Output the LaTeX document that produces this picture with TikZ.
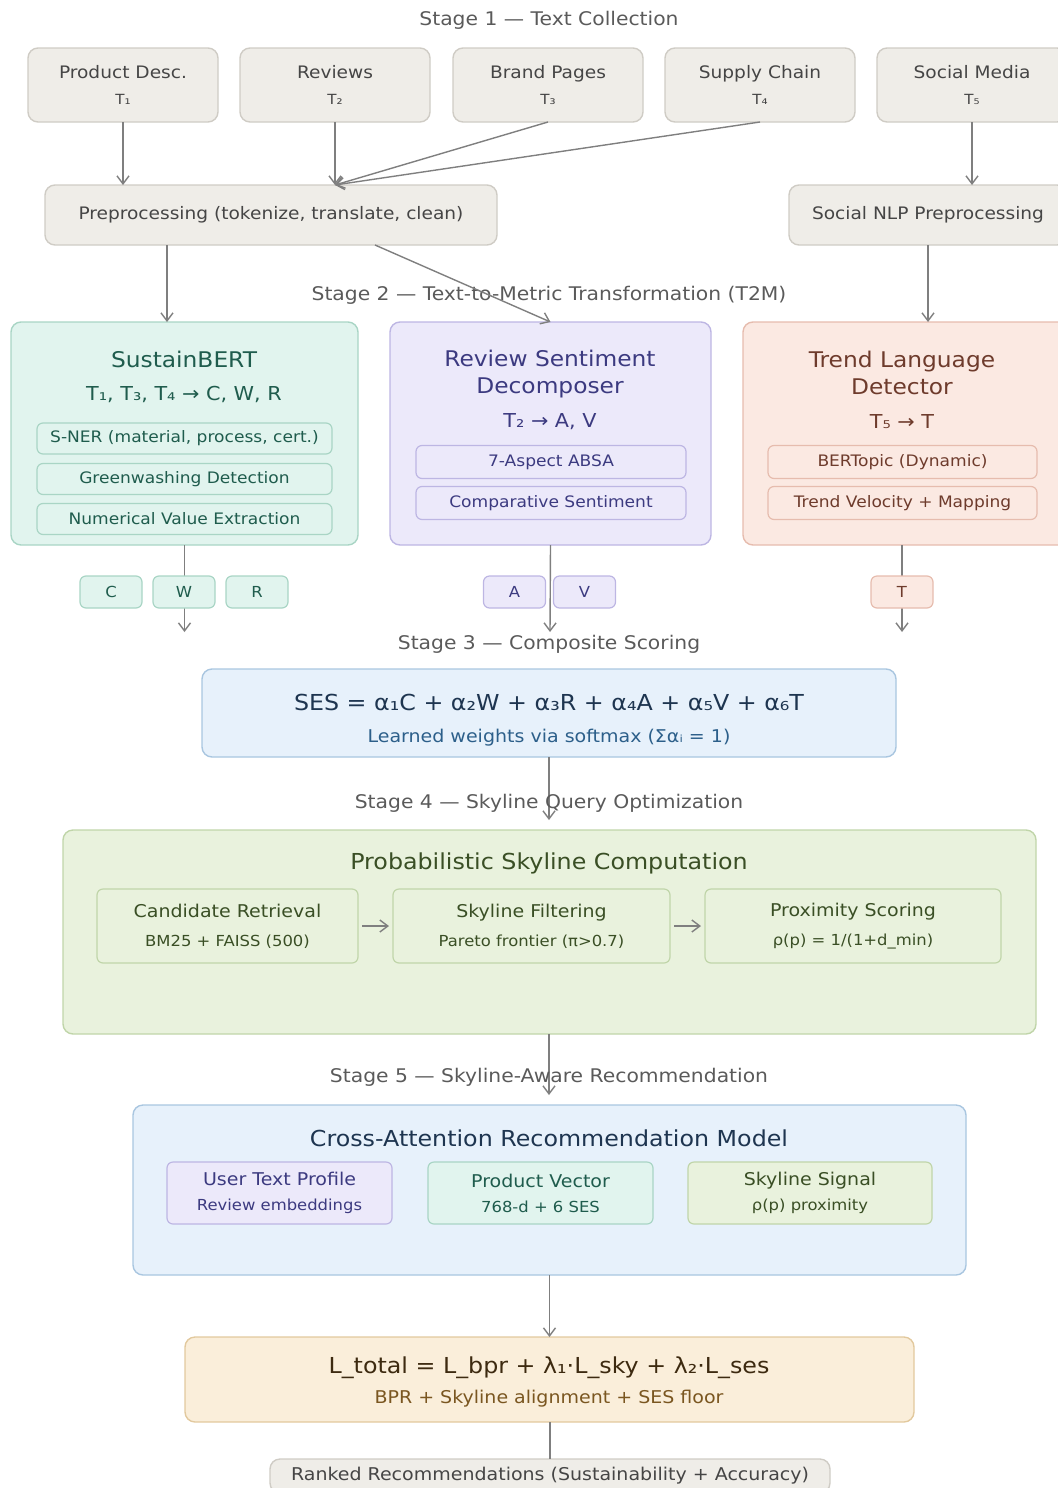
\documentclass[tikz,border=0pt]{standalone}
\usepackage{fontspec}
\setmainfont[FakeStretch=1.08]{DejaVu Sans}
\usetikzlibrary{arrows.meta}

\definecolor{greyfill}{HTML}{EFEDE8}
\definecolor{greyedge}{HTML}{CFCCC5}
\definecolor{greytext}{HTML}{454545}
\definecolor{stagetext}{HTML}{5A5A5A}
\definecolor{greenfill}{HTML}{E1F4EE}
\definecolor{greenedge}{HTML}{A9D5C5}
\definecolor{greentext}{HTML}{1F5C4D}
\definecolor{lavfill}{HTML}{ECE9FA}
\definecolor{lavedge}{HTML}{BDB6E3}
\definecolor{lavtext}{HTML}{3C3A80}
\definecolor{peachfill}{HTML}{FBE9E2}
\definecolor{peachedge}{HTML}{E6BCAE}
\definecolor{peachtext}{HTML}{6E3B2C}
\definecolor{bluefill}{HTML}{E7F1FB}
\definecolor{blueedge}{HTML}{A9C6E0}
\definecolor{bluetext}{HTML}{1E3550}
\definecolor{bluesub}{HTML}{2C5F8A}
\definecolor{olivefill}{HTML}{E9F2DD}
\definecolor{oliveedge}{HTML}{C0D5A9}
\definecolor{olivetext}{HTML}{3A4F25}
\definecolor{sandfill}{HTML}{FAEEDA}
\definecolor{sandedge}{HTML}{E2C99E}
\definecolor{sandtext}{HTML}{3D2A10}
\definecolor{sandsub}{HTML}{7A5620}
\definecolor{arrowgrey}{HTML}{7F7F7F}

\newcommand{\StageFont}{\fontsize{9.4}{11}\selectfont}
\newcommand{\SrcFont}{\fontsize{8.6}{10.5}\selectfont}
\newcommand{\TinyFont}{\fontsize{7}{8.5}\selectfont}
\newcommand{\HeadFont}{\fontsize{10.8}{13.5}\selectfont}
\newcommand{\FormFont}{\fontsize{9.6}{11.5}\selectfont}
\newcommand{\ItemFont}{\fontsize{7.9}{9.5}\selectfont}
\newcommand{\LabFont}{\fontsize{8.8}{10.5}\selectfont}
\newcommand{\NoteFont}{\fontsize{7.6}{9}\selectfont}
\newcommand{\BigFont}{\fontsize{11}{13}\selectfont}

\begin{document}
\begin{tikzpicture}[x=0.5pt,y=-0.5pt]
  \tikzset{BoxStyle/.style = {
    shape           = rectangle,
    rounded corners = 5pt,
    line width      = 0.7pt,
    inner sep       = 0pt,
    outer sep       = 0pt,
    align           = center
    }
  }
  \tikzset{SrcStyle/.style = {BoxStyle,
    draw = greyedge, fill = greyfill, text = greytext,
    minimum width = 95pt, minimum height = 37pt}
  }
  \tikzset{PreStyle/.style = {BoxStyle,
    draw = greyedge, fill = greyfill, text = greytext,
    minimum height = 30pt, font = \SrcFont}
  }
  \tikzset{ItemStyle/.style = {BoxStyle,
    rounded corners = 3pt, line width = 0.6pt,
    font = \ItemFont}
  }
  \tikzset{TokenStyle/.style = {BoxStyle,
    rounded corners = 3pt, line width = 0.6pt,
    minimum width = 31pt, minimum height = 16pt, font = \NoteFont}
  }
  \tikzset{StageStyle/.style = {text = stagetext, font = \StageFont, inner sep = 0pt}}
  \tikzset{ArrowStyle/.style = {
    draw       = arrowgrey,
    line width = 0.7pt,
    -{Straight Barb[length=4pt,width=6pt]}
    }
  }
  \tikzset{LineStyle/.style = {draw = arrowgrey, line width = 0.7pt}}

  \useasboundingbox (0,0) rectangle (1057,1488);

  % stage 1
  \node[StageStyle](St1) at (549,20) {Stage 1 — Text Collection};
  \node[SrcStyle](Src1) at (123,85) {{\SrcFont Product Desc.}\\[1pt]{\TinyFont T₁}};
  \node[SrcStyle](Src2) at (335,85) {{\SrcFont Reviews}\\[1pt]{\TinyFont T₂}};
  \node[SrcStyle](Src3) at (548,85) {{\SrcFont Brand Pages}\\[1pt]{\TinyFont T₃}};
  \node[SrcStyle](Src4) at (760,85) {{\SrcFont Supply Chain}\\[1pt]{\TinyFont T₄}};
  \node[SrcStyle](Src5) at (972,85) {{\SrcFont Social Media}\\[1pt]{\TinyFont T₅}};
  \node[PreStyle, minimum width=226pt](Pre1) at (271,215) {Preprocessing (tokenize, translate, clean)};
  \node[PreStyle, minimum width=139pt](Pre2) at (928,215) {Social NLP Preprocessing};
  \coordinate (PreIn) at (335,185);
  \draw[ArrowStyle](Src1.south) to (Src1.south |- Pre1.north);
  \draw[ArrowStyle](Src2.south) to (PreIn);
  \draw[ArrowStyle](Src3.south) to (PreIn);
  \draw[ArrowStyle](Src4.south) to (PreIn);
  \draw[ArrowStyle](Src5.south) to (Src5.south |- Pre2.north);

  % stage 2
  \node[StageStyle](St2) at (549,295) {Stage 2 — Text-to-Metric Transformation (T2M)};
  \node[BoxStyle, draw=greenedge, fill=greenfill, minimum width=173.5pt, minimum height=111.5pt](Mod1) at (184.5,433.5) {};
  \node[BoxStyle, draw=lavedge, fill=lavfill, minimum width=160.5pt, minimum height=111.5pt](Mod2) at (550.5,433.5) {};
  \node[BoxStyle, draw=peachedge, fill=peachfill, minimum width=163.5pt, minimum height=111.5pt](Mod3) at (906.5,433.5) {};
  \coordinate (PreOutA) at (167,245);
  \coordinate (PreOutB) at (375,245);
  \draw[ArrowStyle](PreOutA) to (PreOutA |- Mod1.north);
  \draw[ArrowStyle](PreOutB) to (Mod2.north);
  \draw[ArrowStyle](Pre2.south) to (Pre2.south |- Mod3.north);

  \node[text=greentext, font=\HeadFont](Mod1t) at (184,359) {SustainBERT};
  \node[text=greentext, font=\FormFont](Mod1f) at (184,394) {T₁, T₃, T₄ → C, W, R};
  \node[ItemStyle, draw=greenedge, fill=greenfill, text=greentext, minimum width=147.5pt, minimum height=15.5pt](Mod1a) at (184.5,438.5) {S-NER (material, process, cert.)};
  \node[ItemStyle, draw=greenedge, fill=greenfill, text=greentext, minimum width=147.5pt, minimum height=15.5pt](Mod1b) at (184.5,479) {Greenwashing Detection};
  \node[ItemStyle, draw=greenedge, fill=greenfill, text=greentext, minimum width=147.5pt, minimum height=15.5pt](Mod1c) at (184.5,519) {Numerical Value Extraction};

  \node[text=lavtext, font=\HeadFont, align=center](Mod2t) at (550,374) {Review Sentiment\\Decomposer};
  \node[text=lavtext, font=\FormFont](Mod2f) at (550,422) {T₂ → A, V};
  \node[ItemStyle, draw=lavedge, fill=lavfill, text=lavtext, minimum width=135pt, minimum height=16.5pt](Mod2a) at (551,462) {7-Aspect ABSA};
  \node[ItemStyle, draw=lavedge, fill=lavfill, text=lavtext, minimum width=135pt, minimum height=16.5pt](Mod2b) at (551,503) {Comparative Sentiment};

  \node[text=peachtext, font=\HeadFont, align=center](Mod3t) at (902,373) {Trend Language\\Detector};
  \node[text=peachtext, font=\FormFont](Mod3f) at (902,422) {T₅ → T};
  \node[ItemStyle, draw=peachedge, fill=peachfill, text=peachtext, minimum width=134.5pt, minimum height=16.5pt](Mod3a) at (902.5,462) {BERTopic (Dynamic)};
  \node[ItemStyle, draw=peachedge, fill=peachfill, text=peachtext, minimum width=134.5pt, minimum height=16.5pt](Mod3b) at (902.5,503) {Trend Velocity + Mapping};

  \coordinate (OutC) at (184.5,632);
  \coordinate (OutA) at (550,632);
  \coordinate (OutT0) at (902,545);
  \coordinate (OutT) at (902,632);
  \draw[ArrowStyle](Mod1.south) to (OutC);
  \draw[ArrowStyle](Mod2.south) to (OutA);
  \draw[ArrowStyle](OutT0) to (OutT);
  \node[TokenStyle, draw=greenedge, fill=greenfill, text=greentext](TokC) at (111,592) {C};
  \node[TokenStyle, draw=greenedge, fill=greenfill, text=greentext](TokW) at (184,592) {W};
  \node[TokenStyle, draw=greenedge, fill=greenfill, text=greentext](TokR) at (257,592) {R};
  \node[TokenStyle, draw=lavedge, fill=lavfill, text=lavtext](TokA) at (514.5,592) {A};
  \node[TokenStyle, draw=lavedge, fill=lavfill, text=lavtext](TokV) at (584.5,592) {V};
  \node[TokenStyle, draw=peachedge, fill=peachfill, text=peachtext](TokT) at (902,592) {T};

  % stage 3
  \node[StageStyle](St3) at (549,644) {Stage 3 — Composite Scoring};
  \node[BoxStyle, draw=blueedge, fill=bluefill, minimum width=347pt, minimum height=44pt](Ses) at (549,713) {};
  \node[text=bluetext, font=\BigFont](Sesf) at (549,702) {SES = α₁C + α₂W + α₃R + α₄A + α₅V + α₆T};
  \node[text=bluesub, font=\LabFont](Sess) at (549,738) {Learned weights via softmax (Σαᵢ = 1)};
  \coordinate (SesOut) at (549,820);
  \draw[ArrowStyle](Ses.south) to (SesOut);

  % stage 4
  \node[StageStyle](St4) at (549,803) {Stage 4 — Skyline Query Optimization};
  \node[BoxStyle, draw=oliveedge, fill=olivefill, minimum width=486.5pt, minimum height=102pt](Prob) at (549.5,932) {};
  \node[text=olivetext, font=\BigFont](Probt) at (549,863) {Probabilistic Skyline Computation};
  \node[ItemStyle, draw=oliveedge, fill=olivefill, text=olivetext, minimum width=130.5pt, minimum height=37pt](Cand) at (227.5,926) {{\LabFont Candidate Retrieval}\\[5pt]{\NoteFont BM25 + FAISS (500)}};
  \node[ItemStyle, draw=oliveedge, fill=olivefill, text=olivetext, minimum width=138.5pt, minimum height=37pt](Filt) at (531.5,926) {{\LabFont Skyline Filtering}\\[5pt]{\NoteFont Pareto frontier (π>0.7)}};
  \node[ItemStyle, draw=oliveedge, fill=olivefill, text=olivetext, minimum width=148pt, minimum height=37pt](Prox) at (853,926) {{\LabFont Proximity Scoring}\\[5pt]{\NoteFont ρ(p) = 1/(1+d\_min)}};
  \draw[ArrowStyle, shorten <=2pt, shorten >=2pt](Cand.east) to (Filt.west);
  \draw[ArrowStyle, shorten <=2pt, shorten >=2pt](Filt.east) to (Prox.west);
  \coordinate (ProbOut) at (549,1095);
  \draw[ArrowStyle](Prob.south -| ProbOut) to (ProbOut);

  % stage 5
  \node[StageStyle](St5) at (549,1077) {Stage 5 — Skyline-Aware Recommendation};
  \node[BoxStyle, draw=blueedge, fill=bluefill, minimum width=416.5pt, minimum height=85pt](Cross) at (549.5,1190) {};
  \node[text=bluetext, font=\BigFont](Crosst) at (549,1138) {Cross-Attention Recommendation Model};
  \node[ItemStyle, draw=lavedge, fill=lavfill, text=lavtext, minimum width=112.5pt, minimum height=31pt](User) at (279.5,1193) {{\LabFont User Text Profile}\\[3pt]{\NoteFont Review embeddings}};
  \node[ItemStyle, draw=greenedge, fill=greenfill, text=greentext, minimum width=112.5pt, minimum height=31pt](Prod) at (540.5,1193) {{\LabFont Product Vector}\\[3pt]{\NoteFont 768-d + 6 SES}};
  \node[ItemStyle, draw=oliveedge, fill=olivefill, text=olivetext, minimum width=122pt, minimum height=31pt](Sky) at (810,1193) {{\LabFont Skyline Signal}\\[3pt]{\NoteFont ρ(p) proximity}};

  \node[BoxStyle, draw=sandedge, fill=sandfill, minimum width=364.5pt, minimum height=42.5pt](Loss) at (549.5,1379.5) {};
  \node[text=sandtext, font=\BigFont](Lossf) at (549,1368) {L\_total = L\_bpr + λ₁·L\_sky + λ₂·L\_ses};
  \node[text=sandsub, font=\LabFont](Losss) at (549,1399) {BPR + Skyline alignment + SES floor};
  \draw[ArrowStyle](Cross.south -| Loss.north) to (Loss.north);

  \node[BoxStyle, draw=greyedge, fill=greyfill, text=greytext, minimum width=280pt, minimum height=17pt, font=\LabFont](Rank) at (550,1476) {Ranked Recommendations (Sustainability + Accuracy)};
  \draw[LineStyle](Loss.south -| Rank.north) to (Rank.north);
\end{tikzpicture}
\end{document}
